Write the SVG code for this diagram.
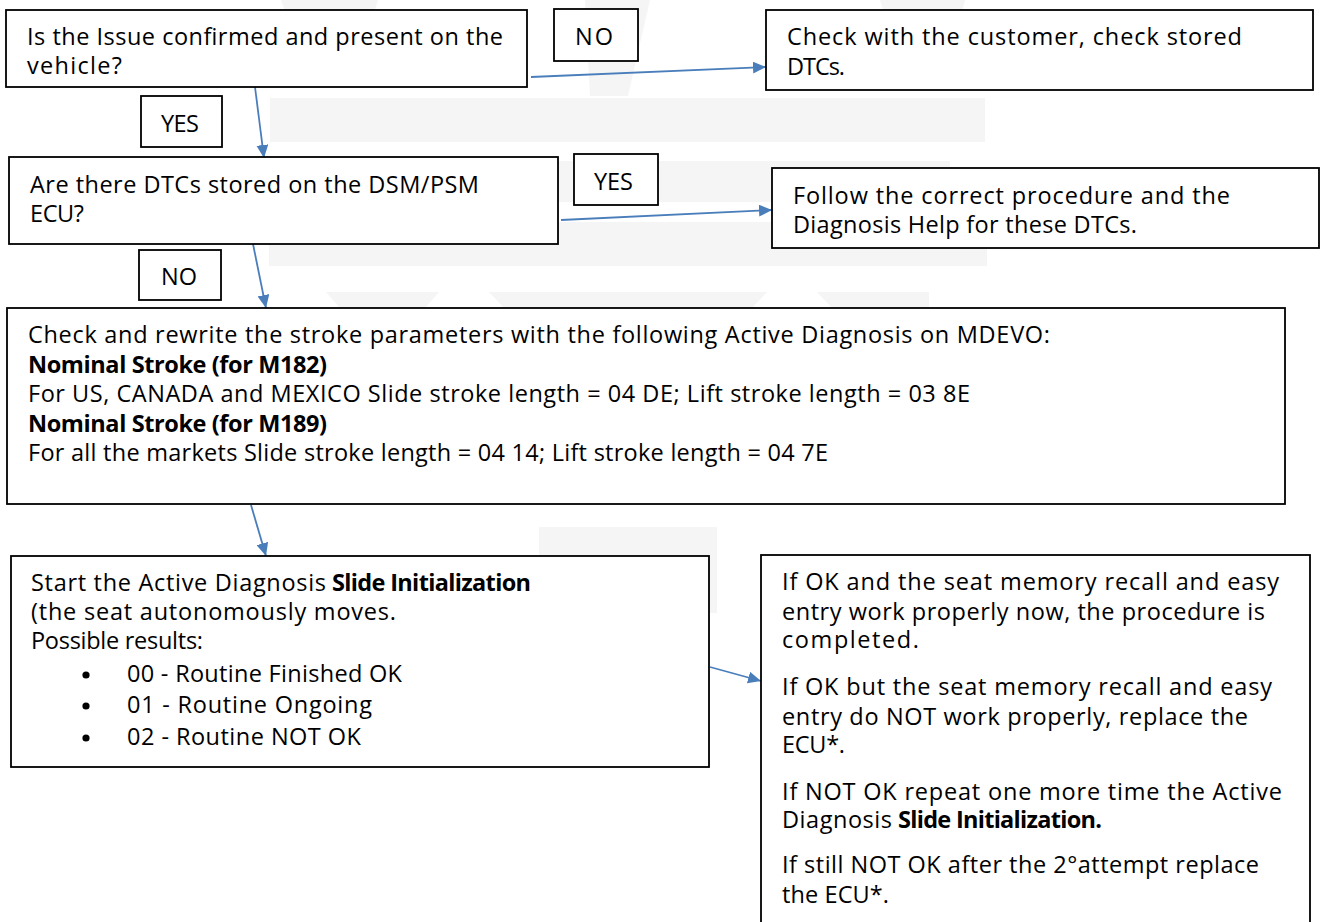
<svg xmlns="http://www.w3.org/2000/svg" width="1321" height="922" viewBox="0 0 1321 922">
<style>
.bx{fill:#fff;stroke:#000;stroke-width:1.8}
.wm{fill:#f5f5f5}
.t{font-family:"Open Sans","Liberation Sans",sans-serif;font-size:23.5px;fill:#000}
.b{font-weight:bold}
.c{fill:none;stroke:#4a7ebb;stroke-width:1.8;marker-end:url(#ah)}
</style>
<defs>
<marker id="ah" markerUnits="userSpaceOnUse" markerWidth="14" markerHeight="12" refX="13" refY="6" orient="auto">
<path d="M0,0 L13,6 L0,12 z" fill="#4a7ebb"/>
</marker>
</defs>
<rect width="1321" height="922" fill="#fff"/>
<g id="watermark">
<polygon class="wm" points="585,0 650,0 628,96 590,96"/>
<polygon class="wm" points="880,0 965,0 955,40 893,40"/>
<polygon class="wm" points="281,0 378,0 370,25 290,25"/>
<rect class="wm" x="270" y="98" width="715" height="44"/>
<rect class="wm" x="270" y="161" width="680" height="41"/>
<rect class="wm" x="269" y="222" width="718" height="44"/>
<polygon class="wm" points="326,292 439,292 425,308 340,308"/>
<polygon class="wm" points="489,292 767,292 752,308 504,308"/>
<polygon class="wm" points="817,292 929,292 929,308 832,308"/>
<rect class="wm" x="539" y="527" width="178" height="86"/>
</g>
<g id="connectors">
<line class="c" x1="531" y1="77" x2="766" y2="67"/>
<line class="c" x1="255" y1="87" x2="264" y2="158"/>
<line class="c" x1="561" y1="220" x2="772" y2="210"/>
<line class="c" x1="253" y1="244" x2="266" y2="308"/>
<line class="c" x1="251" y1="505" x2="266" y2="556"/>
<line class="c" x1="710" y1="667" x2="761" y2="681"/>
</g>
<g id="q1">
<rect class="bx" x="6" y="10" width="521" height="77"/>
<text class="t" x="27" y="45" textLength="476">Is the Issue confirmed and present on the</text>
<text class="t" x="27" y="74" textLength="95">vehicle?</text>
</g>
<g id="lbl-no1">
<rect class="bx" x="554" y="9" width="84" height="52"/>
<text class="t" x="575" y="45" textLength="38">NO</text>
</g>
<g id="check-customer">
<rect class="bx" x="766" y="10" width="547" height="80"/>
<text class="t" x="787" y="45" textLength="455">Check with the customer, check stored</text>
<text class="t" x="787" y="75" textLength="58">DTCs.</text>
</g>
<g id="lbl-yes1">
<rect class="bx" x="141" y="96" width="81" height="51"/>
<text class="t" x="161" y="132" textLength="38">YES</text>
</g>
<g id="q2">
<rect class="bx" x="9" y="157" width="549" height="87"/>
<text class="t" x="30" y="193" textLength="449">Are there DTCs stored on the DSM/PSM</text>
<text class="t" x="30" y="222" textLength="54">ECU?</text>
</g>
<g id="lbl-yes2">
<rect class="bx" x="574" y="154" width="84" height="51"/>
<text class="t" x="594" y="190" textLength="39">YES</text>
</g>
<g id="follow-procedure">
<rect class="bx" x="772" y="168" width="547" height="80"/>
<text class="t" x="793" y="204" textLength="437">Follow the correct procedure and the</text>
<text class="t" x="793" y="233" textLength="344">Diagnosis Help for these DTCs.</text>
</g>
<g id="lbl-no2">
<rect class="bx" x="139" y="250" width="82" height="50"/>
<text class="t" x="161" y="285" textLength="36">NO</text>
</g>
<g id="stroke-params">
<rect class="bx" x="7" y="308" width="1278" height="196"/>
<text class="t" x="28" y="343" textLength="1022">Check and rewrite the stroke parameters with the following Active Diagnosis on MDEVO:</text>
<text class="t b" x="28" y="373" textLength="299">Nominal Stroke (for M182)</text>
<text class="t" x="28" y="402" textLength="942">For US, CANADA and MEXICO Slide stroke length = 04 DE; Lift stroke length = 03 8E</text>
<text class="t b" x="28" y="432" textLength="299">Nominal Stroke (for M189)</text>
<text class="t" x="28" y="461" textLength="800">For all the markets Slide stroke length = 04 14; Lift stroke length = 04 7E</text>
</g>
<g id="slide-init">
<rect class="bx" x="11" y="556" width="698" height="211"/>
<text class="t" x="31" y="591" textLength="295">Start the Active Diagnosis</text>
<text class="t b" x="332" y="591" textLength="199">Slide Initialization</text>
<text class="t" x="31" y="620" textLength="365">(the seat autonomously moves.</text>
<text class="t" x="31" y="649" textLength="172">Possible results:</text>
<circle cx="86" cy="675" r="3.6"/>
<text class="t" x="127" y="682" textLength="275">00 - Routine Finished OK</text>
<circle cx="86" cy="706" r="3.6"/>
<text class="t" x="127" y="713" textLength="245">01 - Routine Ongoing</text>
<circle cx="86" cy="738" r="3.6"/>
<text class="t" x="127" y="745" textLength="234">02 - Routine NOT OK</text>
</g>
<g id="results">
<rect class="bx" x="761" y="555" width="549" height="380"/>
<text class="t" x="782" y="590" textLength="497">If OK and the seat memory recall and easy</text>
<text class="t" x="782" y="620" textLength="483">entry work properly now, the procedure is</text>
<text class="t" x="782" y="648" textLength="137">completed.</text>
<text class="t" x="782" y="695" textLength="490">If OK but the seat memory recall and easy</text>
<text class="t" x="782" y="725" textLength="466">entry do NOT work properly, replace the</text>
<text class="t" x="782" y="753" textLength="63">ECU*.</text>
<text class="t" x="782" y="800" textLength="500">If NOT OK repeat one more time the Active</text>
<text class="t" x="782" y="828" textLength="110">Diagnosis</text>
<text class="t b" x="898" y="828" textLength="204">Slide Initialization.</text>
<text class="t" x="782" y="873" textLength="477">If still NOT OK after the 2°attempt replace</text>
<text class="t" x="782" y="903" textLength="107">the ECU*.</text>
</g>
</svg>
